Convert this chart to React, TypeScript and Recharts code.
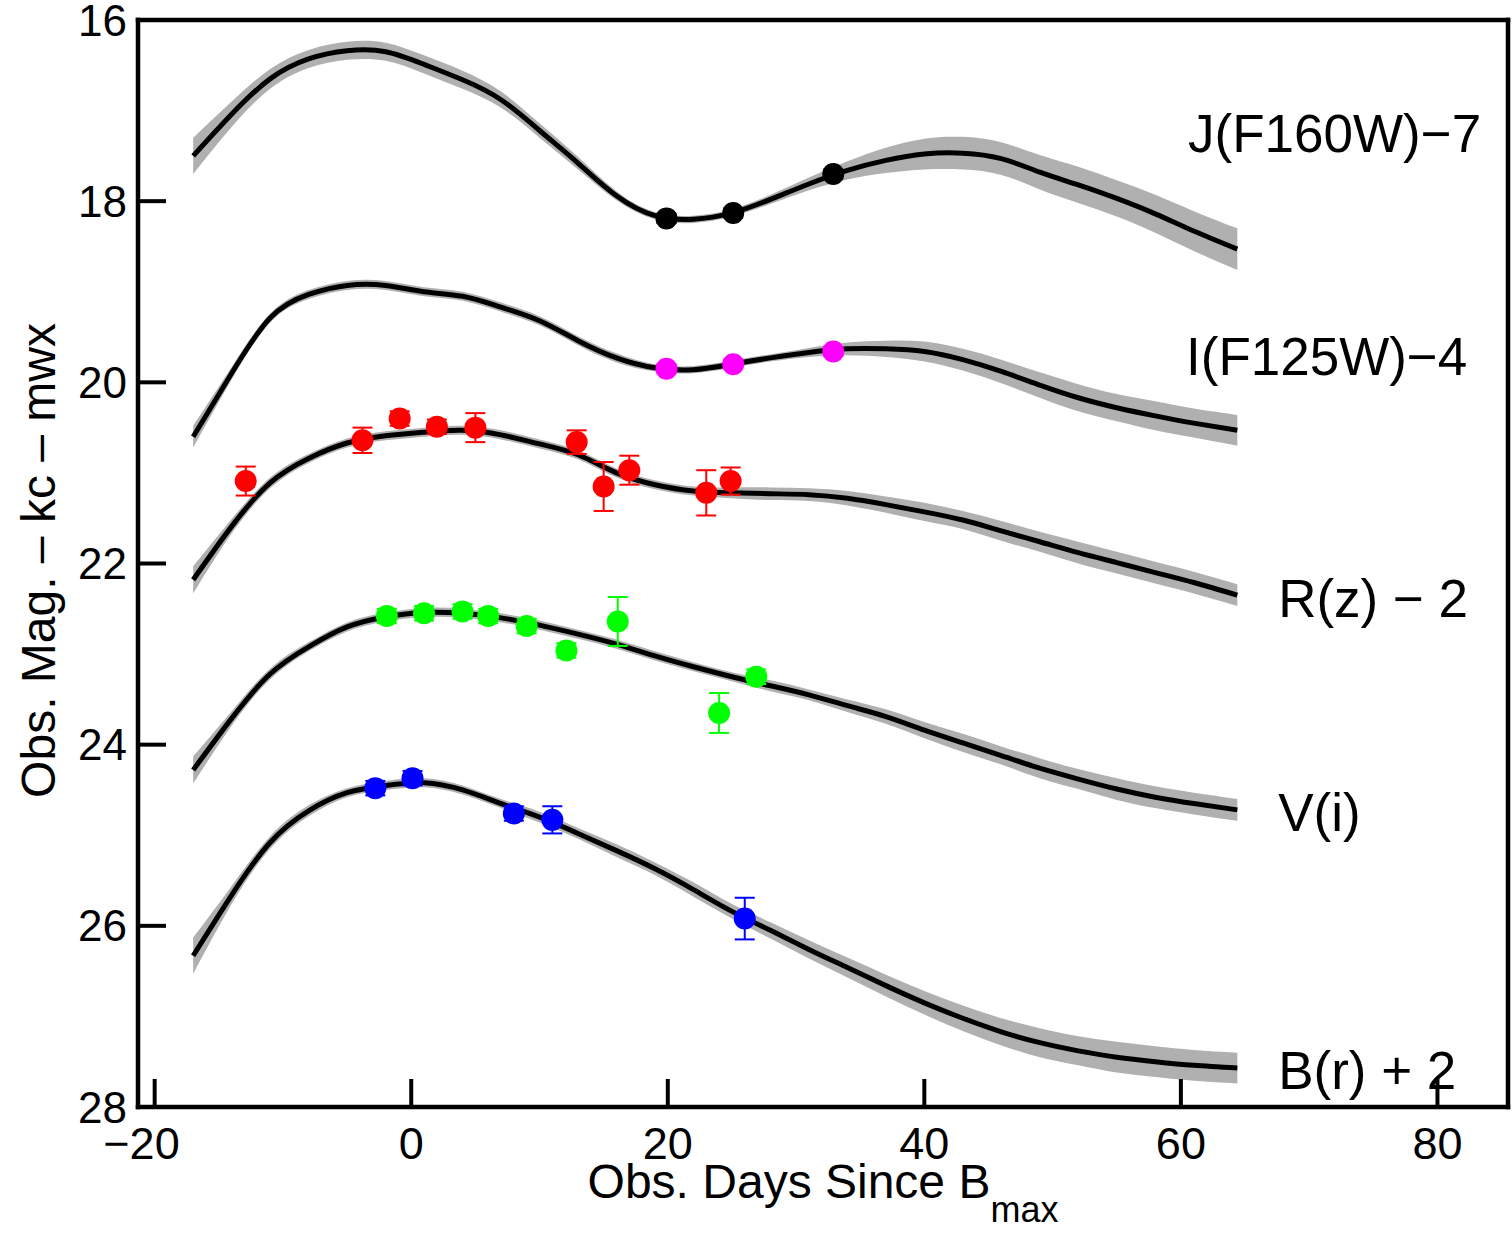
import { ComposedChart, XAxis, YAxis, Area, Line, Scatter, ErrorBar, ReferenceDot } from 'recharts';

const FONT = '"Liberation Sans", Arial, Helvetica, sans-serif';

// model light curves, sampled on a common grid of observed days
const CURVE_DAYS = [-17, -14, -11, -8, -5, -2, 1, 4, 7, 10, 13, 16, 19, 22, 25, 28, 31, 34, 37, 40, 43, 46, 49, 52, 55, 58, 61, 64.4];

const J_MAG = [17.5, 17.04, 16.65, 16.43, 16.34, 16.35, 16.49, 16.66, 16.88, 17.22, 17.58, 17.94, 18.16, 18.2, 18.13, 17.98, 17.81, 17.66, 17.55, 17.48, 17.47, 17.53, 17.68, 17.82, 17.97, 18.14, 18.33, 18.53];
const J_WIDTH = [0.2, 0.14, 0.11, 0.1, 0.1, 0.1, 0.1, 0.1, 0.09, 0.08, 0.07, 0.05, 0.04, 0.04, 0.04, 0.05, 0.07, 0.1, 0.14, 0.17, 0.18, 0.18, 0.19, 0.2, 0.2, 0.21, 0.22, 0.23];

const I_MAG = [20.6, 19.9, 19.29, 19.03, 18.93, 18.93, 19.0, 19.05, 19.17, 19.32, 19.54, 19.73, 19.84, 19.86, 19.8, 19.73, 19.67, 19.63, 19.63, 19.66, 19.75, 19.88, 20.03, 20.17, 20.28, 20.37, 20.45, 20.53];
const I_WIDTH = [0.12, 0.07, 0.05, 0.05, 0.05, 0.05, 0.05, 0.05, 0.05, 0.05, 0.05, 0.05, 0.04, 0.04, 0.04, 0.04, 0.05, 0.07, 0.09, 0.11, 0.12, 0.13, 0.14, 0.15, 0.15, 0.16, 0.16, 0.17];

const R_MAG = [22.18, 21.59, 21.11, 20.84, 20.67, 20.59, 20.55, 20.53, 20.58, 20.68, 20.8, 21.0, 21.13, 21.2, 21.22, 21.23, 21.24, 21.28, 21.35, 21.43, 21.52, 21.64, 21.76, 21.88, 21.99, 22.1, 22.21, 22.35];
const R_WIDTH = [0.15, 0.08, 0.06, 0.05, 0.05, 0.05, 0.05, 0.05, 0.05, 0.05, 0.05, 0.05, 0.05, 0.05, 0.06, 0.07, 0.07, 0.08, 0.09, 0.1, 0.1, 0.11, 0.11, 0.12, 0.12, 0.12, 0.12, 0.12];

const V_MAG = [24.28, 23.71, 23.22, 22.92, 22.7, 22.59, 22.54, 22.55, 22.6, 22.68, 22.78, 22.89, 23.02, 23.14, 23.25, 23.35, 23.45, 23.57, 23.69, 23.84, 23.98, 24.12, 24.26, 24.38, 24.49, 24.58, 24.65, 24.72];
const V_WIDTH = [0.15, 0.08, 0.06, 0.05, 0.05, 0.05, 0.05, 0.05, 0.05, 0.05, 0.05, 0.05, 0.05, 0.05, 0.05, 0.06, 0.06, 0.07, 0.08, 0.09, 0.1, 0.1, 0.11, 0.11, 0.12, 0.12, 0.12, 0.12];

const B_MAG = [26.33, 25.66, 25.08, 24.73, 24.53, 24.45, 24.42, 24.5, 24.65, 24.8, 24.98, 25.17, 25.37, 25.6, 25.84, 26.05, 26.26, 26.46, 26.66, 26.85, 27.02, 27.17, 27.29, 27.38, 27.45, 27.5, 27.54, 27.57];
const B_WIDTH = [0.2, 0.1, 0.07, 0.06, 0.05, 0.05, 0.05, 0.05, 0.05, 0.06, 0.06, 0.07, 0.07, 0.08, 0.08, 0.09, 0.1, 0.11, 0.12, 0.13, 0.14, 0.15, 0.16, 0.16, 0.17, 0.17, 0.17, 0.17];

// observed photometry
const J_OBS_DAY = [19.9, 25.1, 32.9];
const J_OBS_MAG = [18.19, 18.13, 17.7];
const J_OBS_ERR = [0.05, 0.05, 0.05];

const I_OBS_DAY = [19.9, 25.1, 32.9];
const I_OBS_MAG = [19.85, 19.8, 19.66];
const I_OBS_ERR = [0.05, 0.05, 0.05];

const R_OBS_DAY = [-12.9, -3.8, -0.9, 2.0, 5.0, 12.9, 15.0, 17.0, 23.0, 24.9];
const R_OBS_MAG = [21.09, 20.64, 20.4, 20.49, 20.5, 20.66, 21.15, 20.97, 21.22, 21.09];
const R_OBS_ERR = [0.16, 0.14, 0.08, 0.08, 0.16, 0.13, 0.27, 0.16, 0.25, 0.15];

const V_OBS_DAY = [-1.9, 1.0, 4.0, 6.0, 9.0, 12.1, 16.1, 24.0, 26.9];
const V_OBS_MAG = [22.58, 22.55, 22.53, 22.58, 22.69, 22.96, 22.64, 23.65, 23.25];
const V_OBS_ERR = [0.08, 0.08, 0.08, 0.08, 0.08, 0.08, 0.27, 0.22, 0.08];

const B_OBS_DAY = [-2.8, 0.1, 8.0, 11.0, 26.0];
const B_OBS_MAG = [24.48, 24.37, 24.76, 24.83, 25.92];
const B_OBS_ERR = [0.08, 0.08, 0.08, 0.15, 0.23];

const X_TICKS = [-20, 0, 20, 40, 60, 80];
const Y_TICKS = [16, 18, 20, 22, 24, 26, 28];

const BAND_LABELS = ['J(F160W)\u22127', 'I(F125W)\u22124', 'R(z) \u2212 2', 'V(i)', 'B(r) + 2'];
// label anchors (left edge, vertical centre) in data units
const LABEL_AT = [
  [60.56, 17.25],
  [60.4, 19.71],
  [67.58, 22.38],
  [67.58, 24.75],
  [67.58, 27.59],
];

function curveRows(mag: number[], width: number[]) {
  return CURVE_DAYS.map((day, i) => ({ day, mag: mag[i], band: [mag[i] - width[i], mag[i] + width[i]] }));
}

function obsRows(days: number[], mags: number[], errs: number[]) {
  return days.map((day, i) => ({ day, mag: mags[i], err: errs[i] }));
}

const SERIES = [
  { key: 'J', color: '#000000', curve: curveRows(J_MAG, J_WIDTH), obs: obsRows(J_OBS_DAY, J_OBS_MAG, J_OBS_ERR) },
  { key: 'I', color: '#ff00ff', curve: curveRows(I_MAG, I_WIDTH), obs: obsRows(I_OBS_DAY, I_OBS_MAG, I_OBS_ERR) },
  { key: 'R', color: '#ff0000', curve: curveRows(R_MAG, R_WIDTH), obs: obsRows(R_OBS_DAY, R_OBS_MAG, R_OBS_ERR) },
  { key: 'V', color: '#00ff00', curve: curveRows(V_MAG, V_WIDTH), obs: obsRows(V_OBS_DAY, V_OBS_MAG, V_OBS_ERR) },
  { key: 'B', color: '#0000ff', curve: curveRows(B_MAG, B_WIDTH), obs: obsRows(B_OBS_DAY, B_OBS_MAG, B_OBS_ERR) },
];

const fmt = (v: number) => (v < 0 ? `\u2212${Math.abs(v)}` : String(v));

const AXIS_LINE = { stroke: '#000', strokeWidth: 4.5, strokeLinecap: 'square' as const };
const TICK_LINE = { stroke: '#000', strokeWidth: 4 };
const X_TICK_SIZE = 45;

// digits sit centred on the tick, a leading minus hangs to the left
function XTick({ x, y, payload }: any) {
  const v = payload.value as number;
  const half = (String(Math.abs(v)).length * 0.556 * X_TICK_SIZE) / 2;
  return (
    <text x={v < 0 ? x + half : x} y={y + 0.716 * X_TICK_SIZE} textAnchor={v < 0 ? 'end' : 'middle'} fontSize={X_TICK_SIZE} fill="#000">
      {fmt(v)}
    </text>
  );
}

function XTitle({ viewBox }: any) {
  const { x, y, width } = viewBox;
  return (
    <text x={x + width / 2} y={y + 91} textAnchor="middle" fontSize={48} fill="#000" fontFamily={FONT}>
      Obs. Days Since B<tspan dy={24} fontSize={36}>max</tspan>
    </text>
  );
}

function YTitle({ viewBox }: any) {
  const { x, y, height } = viewBox;
  const cx = x + 55;
  const cy = y + height / 2 - 3;
  return (
    <text x={cx} y={cy} transform={`rotate(-90, ${cx}, ${cy})`} textAnchor="middle" fontSize={48} fill="#000" fontFamily={FONT}>
      Obs. Mag. – kc – mwx
    </text>
  );
}

const dotShape = (color: string) => (p: any) => <circle cx={p.cx} cy={p.cy} r={11} fill={color} />;

export default function App() {
  return (
    <div style={{ position: 'absolute', left: 0, top: 0, width: 1512, height: 1233, background: '#fff', fontFamily: FONT }}>
      <ComposedChart width={1512} height={1233} margin={{ top: 19, right: 3, bottom: 0, left: 0 }}>
        <XAxis
          dataKey="day"
          type="number"
          domain={[-21.3, 85.5]}
          allowDataOverflow
          ticks={X_TICKS}
          interval={0}
          height={126}
          axisLine={AXIS_LINE}
          tickLine={TICK_LINE}
          tickSize={-28}
          tickMargin={48}
          tick={<XTick />}
          label={XTitle}
        />
        <XAxis
          xAxisId="top"
          orientation="top"
          dataKey="day"
          type="number"
          domain={[-21.3, 85.5]}
          allowDataOverflow
          ticks={X_TICKS}
          interval={0}
          height={1}
          axisLine={AXIS_LINE}
          tickLine={TICK_LINE}
          tickSize={-28}
          tick={false}
        />
        <YAxis
          type="number"
          domain={[16, 28]}
          reversed
          allowDataOverflow
          ticks={Y_TICKS}
          interval={0}
          width={138}
          axisLine={AXIS_LINE}
          tickLine={TICK_LINE}
          tickSize={-28}
          tickMargin={39}
          tick={{ fontSize: 44, fill: '#000' }}
          label={YTitle}
        />
        <YAxis
          yAxisId="right"
          orientation="right"
          type="number"
          domain={[16, 28]}
          reversed
          allowDataOverflow
          ticks={Y_TICKS}
          interval={0}
          width={1}
          axisLine={AXIS_LINE}
          tickLine={TICK_LINE}
          tickSize={-28}
          tick={false}
        />

        {SERIES.map((s) => (
          <Area
            key={`band-${s.key}`}
            data={s.curve}
            dataKey="band"
            type="natural"
            stroke="none"
            fill="#b0b0b0"
            fillOpacity={1}
            isAnimationActive={false}
          />
        ))}
        {SERIES.map((s) => (
          <Line
            key={`line-${s.key}`}
            data={s.curve}
            dataKey="mag"
            type="natural"
            stroke="#000"
            strokeWidth={5}
            dot={false}
            activeDot={false}
            isAnimationActive={false}
          />
        ))}
        {SERIES.map((s) => (
          <Scatter
            key={`obs-${s.key}`}
            data={s.obs}
            dataKey="mag"
            fill={s.color}
            shape={dotShape(s.color)}
            isAnimationActive={false}
          >
            <ErrorBar dataKey="err" direction="y" stroke={s.color} strokeWidth={2} width={10} isAnimationActive={false} />
          </Scatter>
        ))}

        {BAND_LABELS.map((text, i) => (
          <ReferenceDot
            key={text}
            x={LABEL_AT[i][0]}
            y={LABEL_AT[i][1]}
            r={0}
            fill="none"
            stroke="none"
            label={{ value: text, position: 'right', offset: 0, fontSize: 53, fill: '#000' }}
          />
        ))}
      </ComposedChart>
    </div>
  );
}
